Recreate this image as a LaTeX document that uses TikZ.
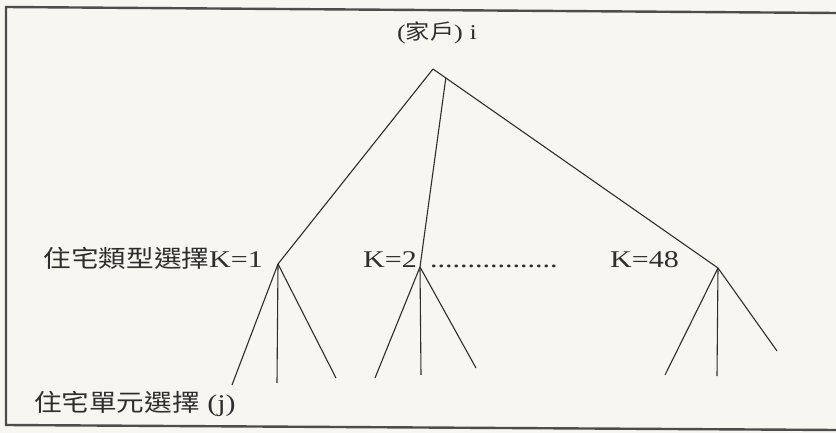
\documentclass[tikz,border=0pt]{standalone}
\usepackage{fontspec}
\usetikzlibrary{calc}
\setmainfont{Liberation Serif}[FakeStretch=1.25]
\newfontfamily\cjk{Noto Sans CJK TC}[FakeStretch=1.15]
\definecolor{paper}{HTML}{F7F6F0}
\definecolor{ink}{HTML}{2E2E2E}
\tikzset{
  branch/.style={draw=ink, line width=1.1pt},
  frameline/.style={draw=ink!85, line width=2.4pt},
  lbl/.style={inner sep=0pt, text=ink, font=\fontsize{24}{26}\selectfont},
}
\begin{document}
\begin{tikzpicture}[x=1pt,y=-1pt]
\fill[paper] (0,0) rectangle (836,433);
\useasboundingbox (0,0) rectangle (836,433);
% frame
\coordinate (ftl) at (6,7);
\coordinate (ftr) at (836,13);
\coordinate (fbl) at (6,425);
\coordinate (fbr) at (836,430);
\draw[frameline] (ftr) -- (ftl) -- (fbl) -- (fbr);
% tree points
\coordinate (root) at (433,69);
\coordinate (k1) at (278,264);
\coordinate (k2) at (420,267);
\coordinate (k48) at (718,268);
\coordinate (mid) at ($(root)!0.045!(k48)$);
\coordinate (a1) at (232,385);
\coordinate (a2) at (277,383);
\coordinate (a3) at (336,378);
\coordinate (b1) at (375,378);
\coordinate (b2) at (421,375);
\coordinate (b3) at (476,368);
\coordinate (c1) at (665,375);
\coordinate (c2) at (717,376);
\coordinate (c3) at (777,351);
\draw[branch] (root) -- (k1);
\draw[branch] (root) -- (k48);
\draw[branch] (mid) -- (k2);
\foreach \p/\c in {k1/a1,k1/a2,k1/a3,k2/b1,k2/b2,k2/b3,k48/c1,k48/c2,k48/c3}
  \draw[branch] (\p) -- (\c);
% labels
\node[lbl, anchor=base, font=\fontsize{21}{23}\selectfont] (hh) at (437,40) {({\cjk 家戶}) i};
\node[lbl, anchor=base east] (t1) at (263,267) {{\cjk 住宅類型選擇}K=1};
\node[lbl, anchor=base west] (t2) at (363,267) {K=2};
\node[lbl, anchor=base west] (dots) at (430,267) {.................};
\node[lbl, anchor=base west] (t48) at (610,267) {K=48};
\node[lbl, anchor=base west] (unit) at (34,411) {{\cjk 住宅單元選擇} (j)};
\end{tikzpicture}
\end{document}
